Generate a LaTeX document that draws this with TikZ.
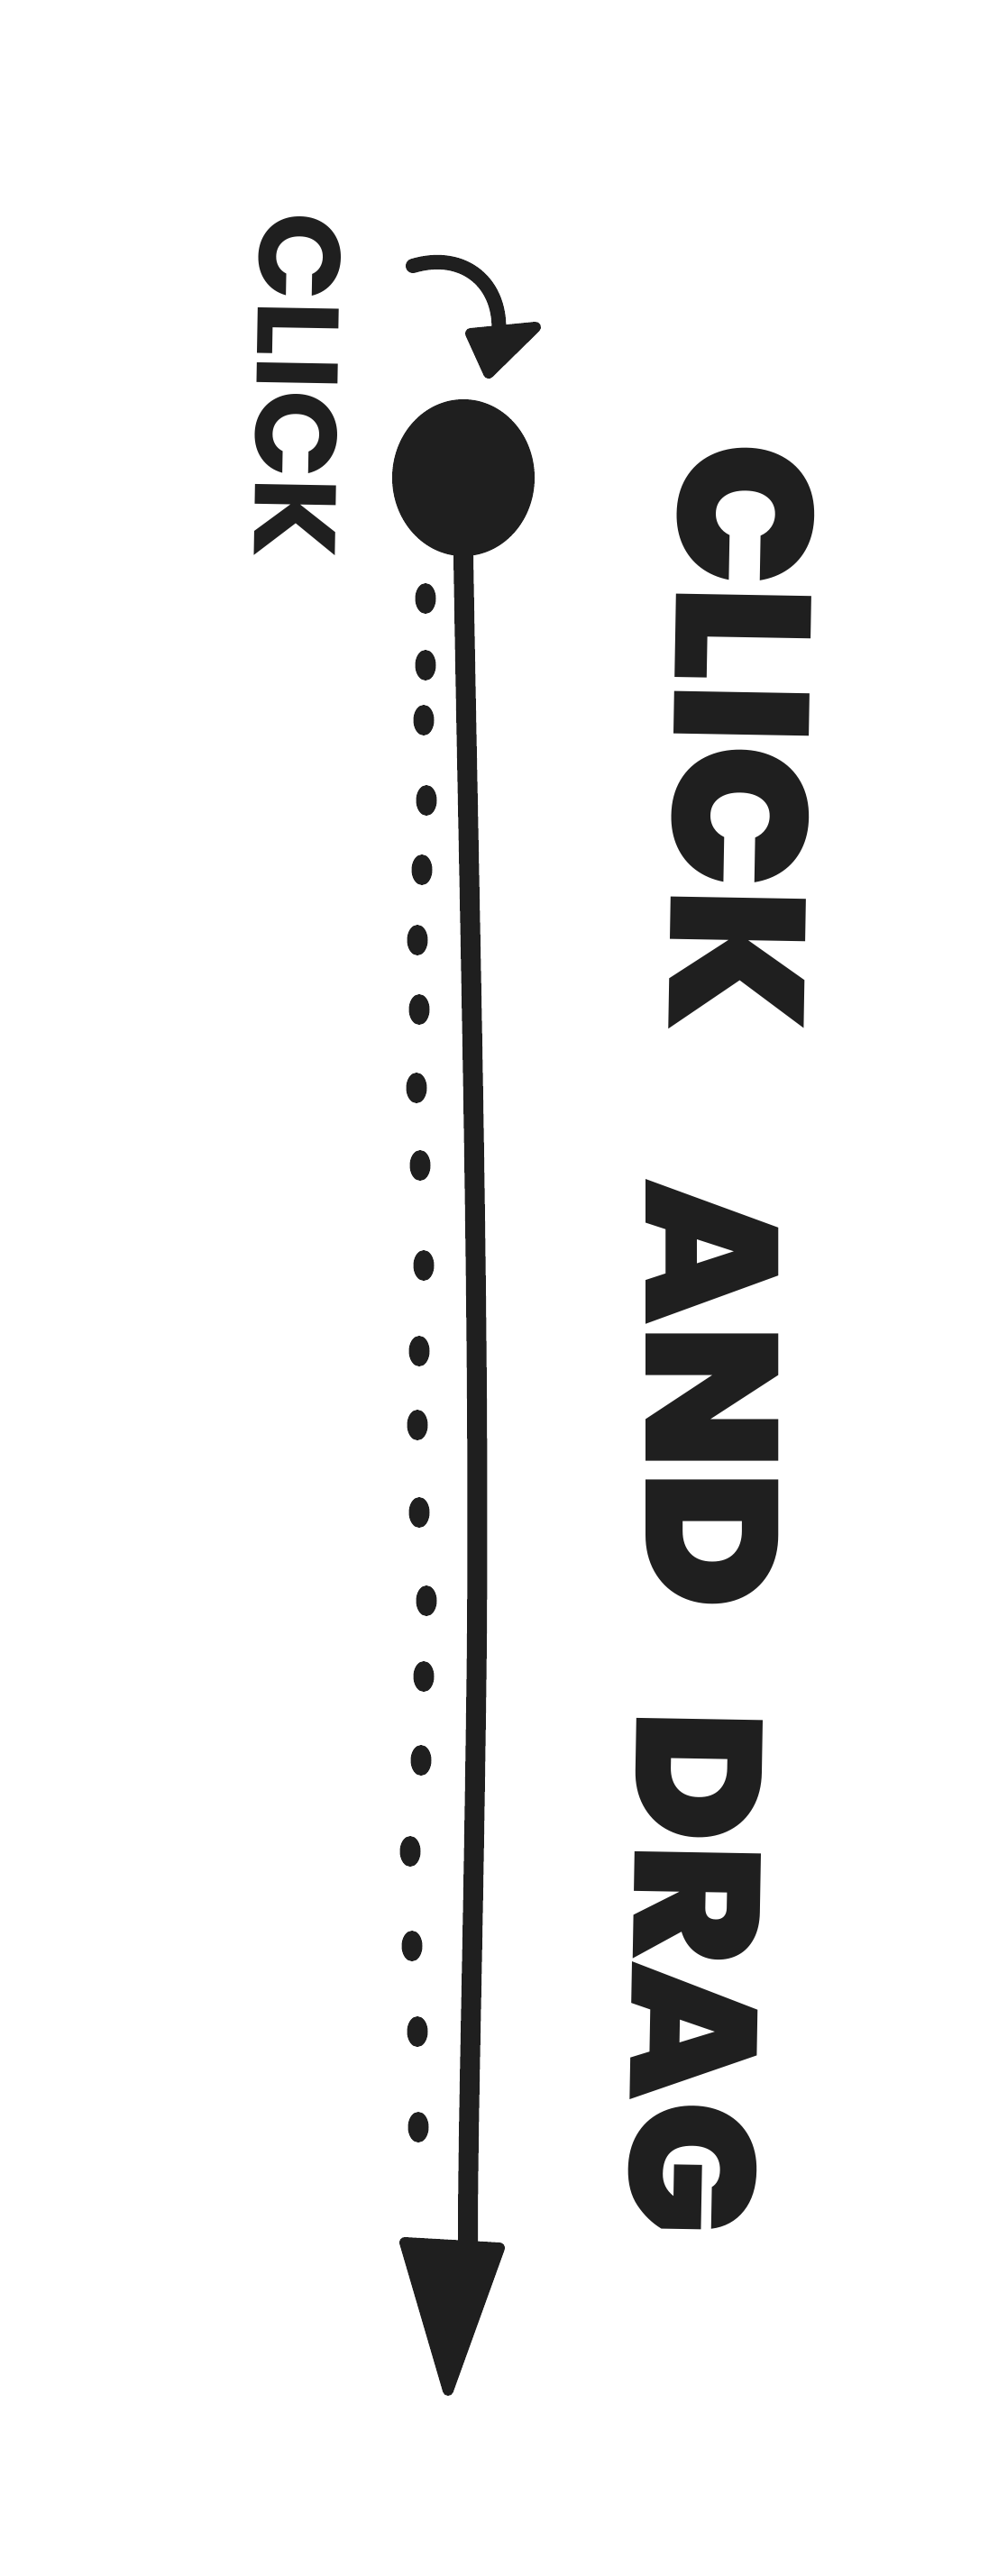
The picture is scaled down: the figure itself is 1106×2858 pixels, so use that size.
\documentclass[tikz,border=0pt]{standalone}
\usepackage{fontspec}
\setmainfont{Poppins}
\newfontfamily\heavyfont{Poppins Black}
\newfontfamily\smallfont{Poppins Bold}
\usetikzlibrary{shapes.geometric}
\tikzset{
  bigword/.style={inner sep=0pt, text=black!88},
  smallword/.style={inner sep=0pt, text=black!88},
  blob/.style={ellipse, fill=black!88, inner sep=0pt, minimum width=158pt, minimum height=174pt},
  pip/.style={ellipse, fill=black!88, inner sep=0pt, minimum width=23pt, minimum height=34pt},
  stem/.style={draw=black!88, line width=22pt, line cap=round},
  hook/.style={draw=black!88, line width=16pt, line cap=round},
  head/.style={fill=black!88, draw=black!88, line width=12pt, line join=round}
}
\begin{document}
\begin{tikzpicture}[x=1pt,y=-1pt]
\useasboundingbox (0,0) rectangle (1106,2858);
\fill[white] (0,0) rectangle (1106,2858);

% small label
\node[smallword, rotate=-91, font={\smallfont\fontsize{128pt}{130pt}\selectfont}] (lbl) at (330,428) {CLICK};

% big lettering
\node[bigword, rotate=-91, font={\heavyfont\fontsize{212pt}{215pt}\selectfont}] (w1) at (823,818) {CLICK};
\node[bigword, rotate=-90, font={\heavyfont\fontsize{208pt}{210pt}\selectfont}] (w2) at (790,1547) {AND};
\node[bigword, rotate=-91, font={\heavyfont\fontsize{198pt}{200pt}\selectfont}] (w3) at (772,2189) {DRAG};

% start blob
\node[blob] (dot) at (514,530) {};

% curved hint arrow
\coordinate (hs) at (458,295);
\coordinate (he) at (553,372);
\coordinate (hl) at (522,370);
\coordinate (hr) at (594,363);
\coordinate (ht) at (542,414);
\draw[hook] (hs) .. controls (515,278) and (558,315) .. (he);
\filldraw[head] (hl) -- (hr) -- (ht) -- cycle;

% drag line and arrowhead
\coordinate (atop) at (519,2490);
\coordinate (al) at (449,2488);
\coordinate (ar) at (554,2494);
\coordinate (at) at (497,2652);
\draw[stem] (dot.south) .. controls (520,1000) and (534,1500) .. (528,1900)
  .. controls (524,2200) and (519,2350) .. (atop);
\filldraw[head] (al) -- (ar) -- (at) -- cycle;

% dotted trail
\foreach \x/\y [count=\i] in {472/664,472/738,470/799,473/888,468/965,463/1043,465/1120,462/1207,466/1293,470/1404,465/1499,463/1581,465/1678,473/1776,470/1860,467/1953,455/2054,457/2159,463/2254,464/2360}
  \node[pip] (p\i) at (\x,\y) {};
\end{tikzpicture}
\end{document}
